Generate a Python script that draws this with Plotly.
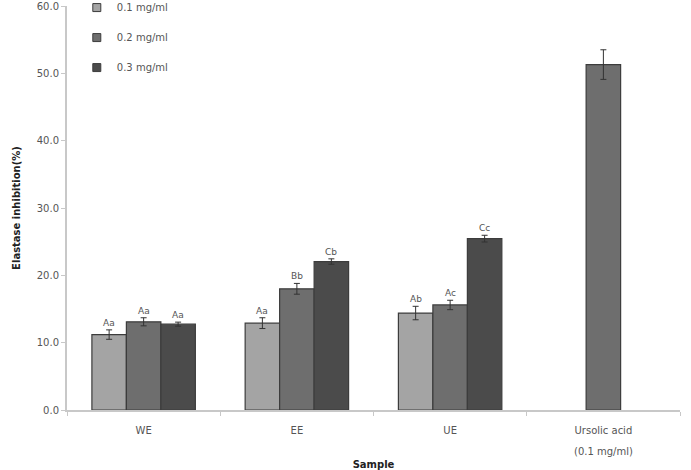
import plotly.graph_objects as go

categories = ["WE", "EE", "UE", "Ursolic acid"]
sub_label = "(0.1 mg/ml)"
series_names = ["0.1 mg/ml", "0.2 mg/ml", "0.3 mg/ml"]
vals_01 = [11.2, 12.9, 14.4]
vals_02 = [13.1, 18.0, 15.6]
vals_03 = [12.75, 22.05, 25.45]
err_01 = [0.7, 0.8, 1.0]
err_02 = [0.6, 0.8, 0.7]
err_03 = [0.3, 0.4, 0.5]
lab_01 = ["Aa", "Aa", "Ab"]
lab_02 = ["Aa", "Bb", "Ac"]
lab_03 = ["Aa", "Cb", "Cc"]
ursolic_val = [51.3]
ursolic_err = [2.2]
y_ticks = [0, 10, 20, 30, 40, 50, 60]

colors = ["#a4a4a4", "#6e6e6e", "#4b4b4b"]
outline = "#3c3c3c"
bw = 0.225
offsets = [-1.5 * bw, -0.5 * bw, 0.5 * bw]

fig = go.Figure()
series = [(vals_01, err_01, lab_01), (vals_02, err_02, lab_02), (vals_03, err_03, lab_03)]
for i, (v, e, labs) in enumerate(series):
    fig.add_trace(go.Bar(
        x=categories[:3], y=v, width=bw, offset=offsets[i],
        marker=dict(color=colors[i], line=dict(color=outline, width=1.2)),
        error_y=dict(type="data", array=e, color="#333333", thickness=1, width=3),
        showlegend=False, name=series_names[i]))
    for k, cat in enumerate(categories[:3]):
        fig.add_annotation(x=cat, y=v[k] + e[k], xref="x", yref="y",
                           text=labs[k], showarrow=False, yanchor="bottom",
                           xshift=(offsets[i] + bw / 2) * 153.3, yshift=0,
                           font=dict(size=9, color="#555555", family="DejaVu Sans"))

fig.add_trace(go.Bar(
    x=[categories[3]], y=ursolic_val, width=bw, offset=-0.5 * bw,
    marker=dict(color=colors[1], line=dict(color=outline, width=1.2)),
    error_y=dict(type="data", array=ursolic_err, color="#333333", thickness=1, width=3),
    showlegend=False))

for i, name in enumerate(series_names):
    fig.add_trace(go.Scatter(
        x=[None], y=[None], mode="markers", name=name,
        marker=dict(symbol="square", size=8, color=colors[i],
                    line=dict(color=outline, width=1)),
        legendgroup=name, showlegend=True))

fig.add_annotation(x=categories[3], y=0, xref="x", yref="paper", text=sub_label,
                   showarrow=False, yanchor="top", yshift=-34,
                   font=dict(size=10, color="#555555", family="DejaVu Sans"))

fig.update_layout(
    width=691, height=470,
    margin=dict(l=67, r=11, t=6, b=60, autoexpand=False),
    barmode="overlay",
    plot_bgcolor="white", paper_bgcolor="white",
    font=dict(family="DejaVu Sans", size=10, color="#555555"),
    legend=dict(x=0.016, y=1.032, xanchor="left", yanchor="top",
                traceorder="grouped", tracegroupgap=11,
                font=dict(size=10, color="#555555"),
                bgcolor="rgba(0,0,0,0)", itemsizing="trace"),
    xaxis=dict(type="category", categoryorder="array", categoryarray=categories,
               showline=True, linecolor="#c8c8c8", linewidth=2,
               ticks="outside", tickson="boundaries", ticklen=4, tickcolor="#c8c8c8",
               tickfont=dict(size=10, color="#555555"), ticklabelstandoff=10,
               title=dict(text="<b>Sample</b>", font=dict(size=10, color="#222222"), standoff=34),
               showgrid=False, range=[-0.5, 3.5], automargin=False),
    yaxis=dict(range=[0, 60], tickvals=y_ticks, tickformat=".1f",
               showline=True, linecolor="#c8c8c8", linewidth=2,
               ticks="outside", ticklen=4, tickcolor="#c8c8c8",
               tickfont=dict(size=10, color="#555555"), ticklabeloverflow="allow",
               title=dict(text="<b>Elastase inhibition(%)</b>", font=dict(size=10, color="#222222"), standoff=14),
               showgrid=False, zeroline=False, automargin=False),
)

fig.write_html("out.html")
